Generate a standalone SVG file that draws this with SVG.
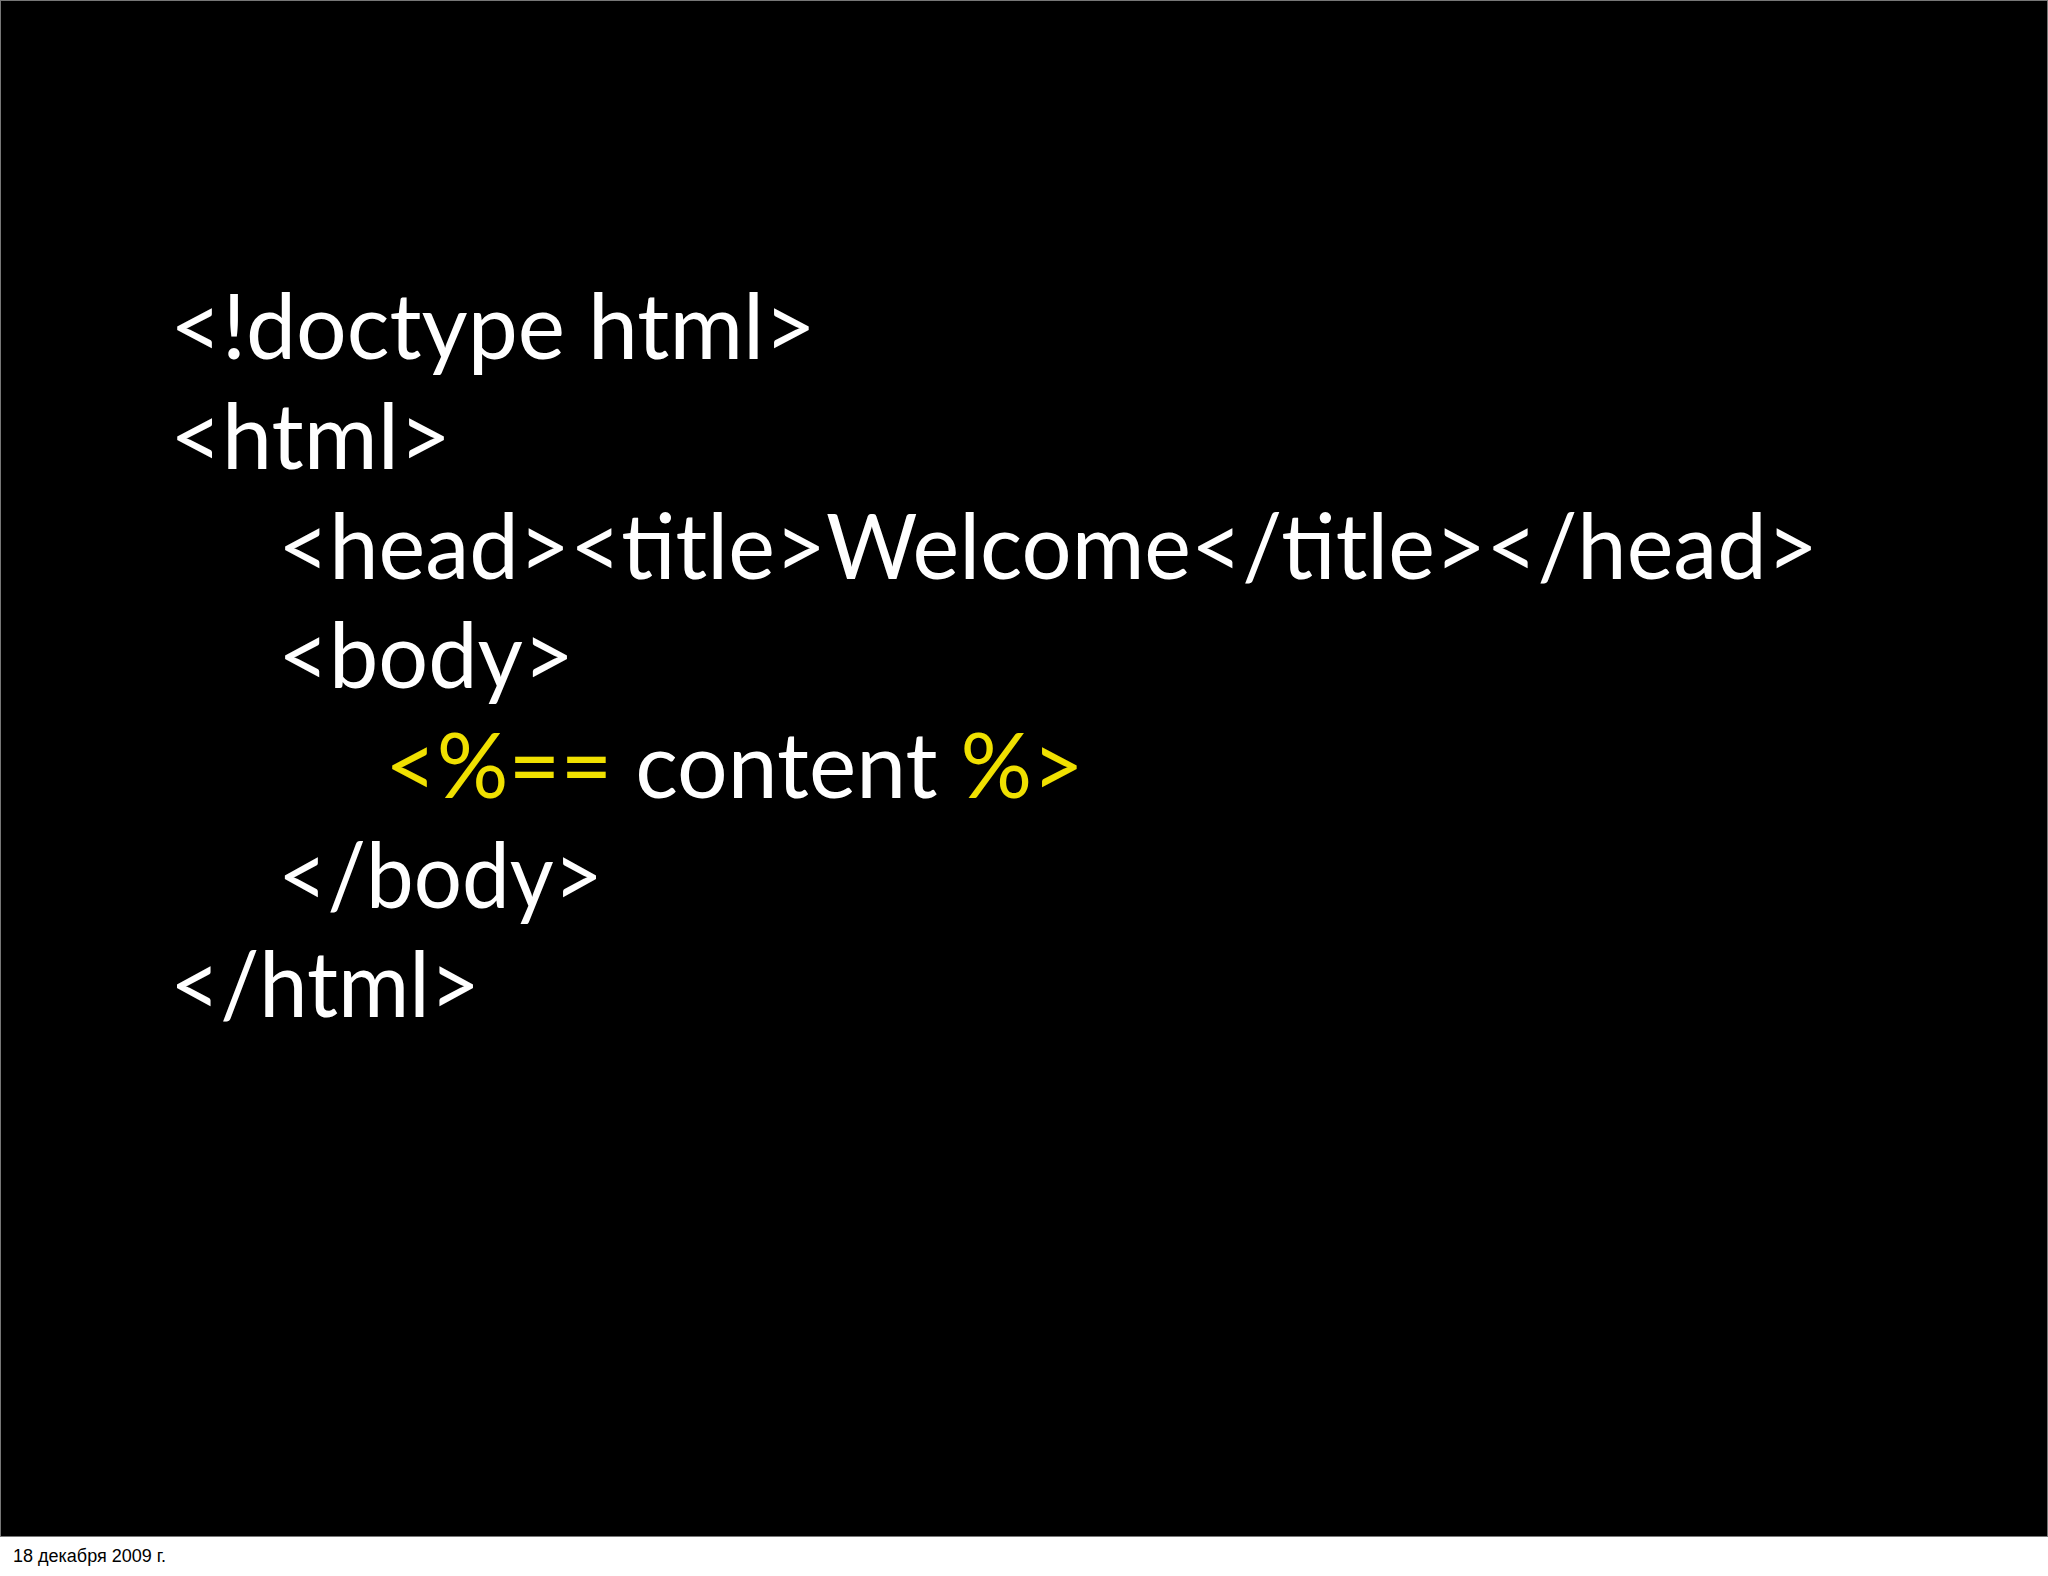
<svg xmlns="http://www.w3.org/2000/svg" width="2048" height="1576" viewBox="0 0 2048 1576">
<style>
.c{font-family:Lato,"Open Sans",sans-serif;font-size:92px;fill:#fff}
.y{fill:#f0e000}
.f{font-family:"Liberation Sans",Arial,sans-serif;font-size:18px;fill:#000}
</style>
<rect width="2048" height="1576" fill="#fff"/>
<rect x="0.5" y="0.5" width="2047" height="1536" fill="#000" stroke="#777"/>
<g id="code">
<text class="c" x="170" y="359" textLength="646" lengthAdjust="spacingAndGlyphs">&lt;!doctype html&gt;</text>
<text class="c" x="170" y="469" textLength="281" lengthAdjust="spacingAndGlyphs">&lt;html&gt;</text>
<text class="c" x="278" y="579" textLength="1540" lengthAdjust="spacingAndGlyphs">&lt;head&gt;&lt;title&gt;Welcome&lt;/title&gt;&lt;/head&gt;</text>
<text class="c" x="278" y="688" textLength="296" lengthAdjust="spacingAndGlyphs">&lt;body&gt;</text>
<text class="c" x="385" y="798" textLength="699" lengthAdjust="spacingAndGlyphs"><tspan class="y">&lt;%==</tspan> content <tspan class="y">%&gt;</tspan></text>
<text class="c" x="278" y="908" textLength="325" lengthAdjust="spacingAndGlyphs">&lt;/body&gt;</text>
<text class="c" x="170" y="1017" textLength="310" lengthAdjust="spacingAndGlyphs">&lt;/html&gt;</text>
</g>
<text class="f" x="13" y="1562">18 декабря 2009 г.</text>
</svg>
